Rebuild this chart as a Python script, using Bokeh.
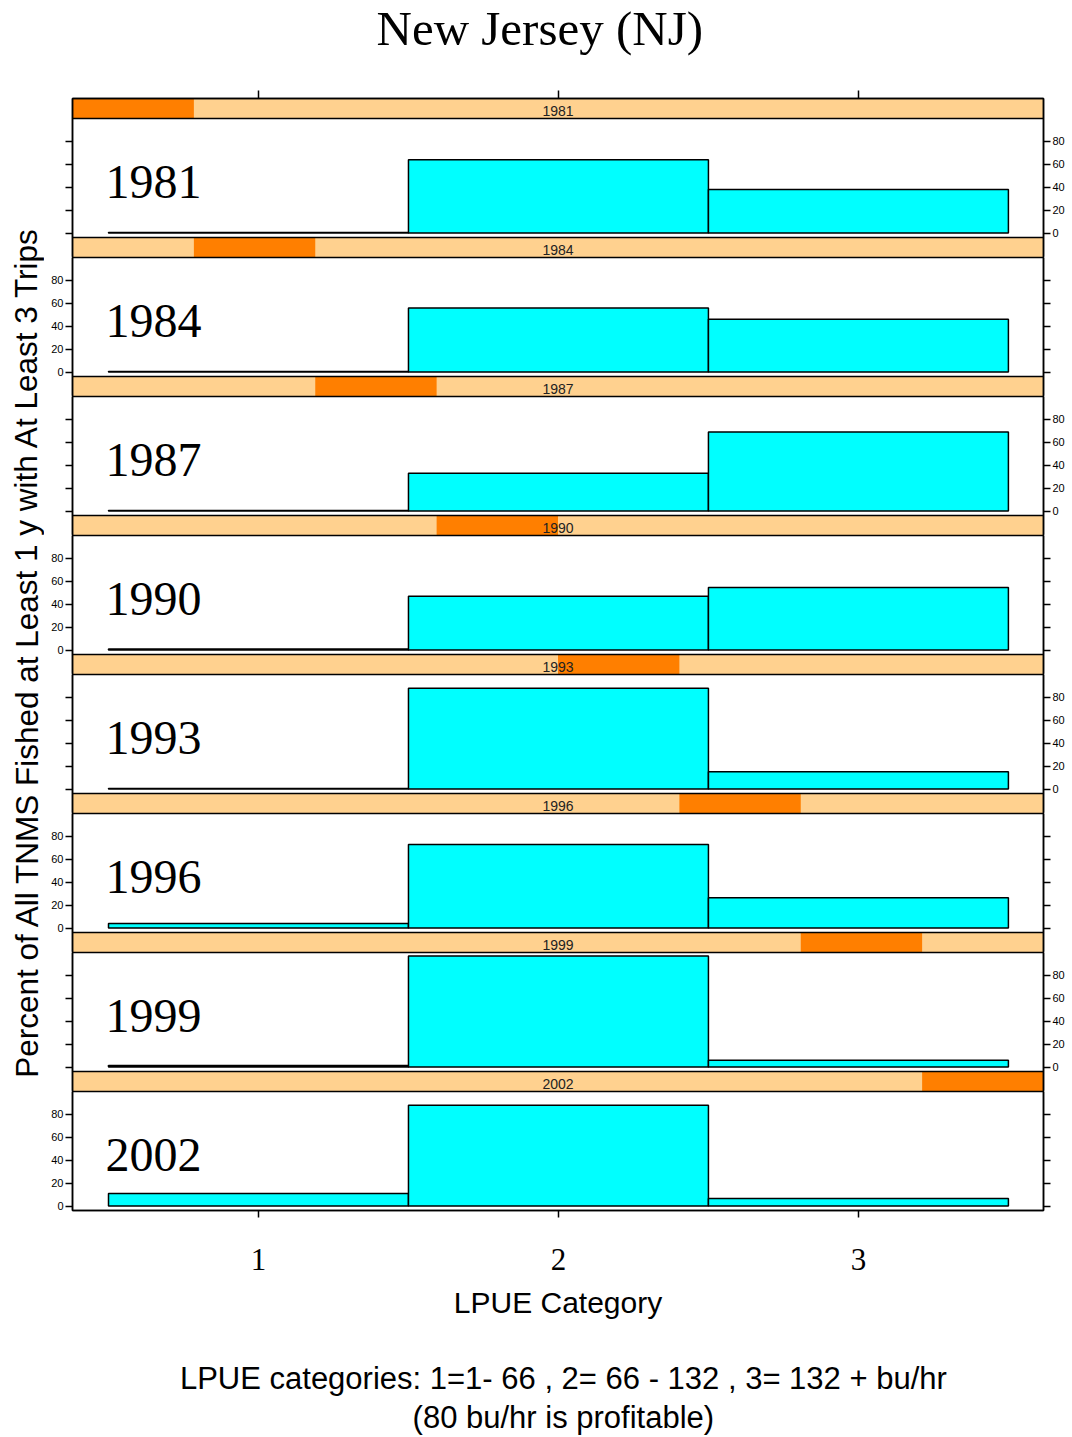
import math
from bokeh.plotting import figure
from bokeh.models import Range1d, LinearAxis, FixedTicker, ColumnDataSource
from bokeh.layouts import column, row
from bokeh.embed import file_html
from bokeh.resources import INLINE
from bokeh.core.properties import value

# ---------------- data ----------------
years = ["1981", "1984", "1987", "1990", "1993", "1996", "1999", "2002"]
categories = [1, 2, 3]
pct_1981 = [0.5, 64.0, 38.0]
pct_1984 = [0.5, 56.0, 46.0]
pct_1987 = [0.5, 33.0, 69.0]
pct_1990 = [1.0, 47.0, 54.5]
pct_1993 = [0.5, 88.0, 15.0]
pct_1996 = [4.0, 73.0, 26.5]
pct_1999 = [1.3, 97.0, 6.0]
pct_2002 = [11.0, 88.0, 6.5]
values = [pct_1981, pct_1984, pct_1987, pct_1990, pct_1993, pct_1996, pct_1999, pct_2002]
y_ticks = [0, 20, 40, 60, 80]
x_ticks = [1, 2, 3]
x_tick_labels = {1: "1", 2: "2", 3: "3"}

title_text = "New Jersey (NJ)"
y_label_text = "Percent of All TNMS Fished at Least 1   y with At Least 3 Trips"
x_label_text = "LPUE Category"
note_line1 = "LPUE categories: 1=1- 66 , 2= 66 - 132 , 3= 132 + bu/hr"
note_line2 = "(80 bu/hr is profitable)"

# ---------------- style ----------------
SERIF = "Liberation Serif"
SANS = "Liberation Sans"
STRIP_BG = "#FFD18F"
STRIP_FG = "#FF7F00"
BAR = "#00FFFF"

FRAME_W = 971
DATA_H = 119
STRIP_H = 20
Y_LO, Y_HI = -3.9, 100.0
UNIT = (Y_HI - Y_LO) / DATA_H  # data units per pixel
X_LO, X_HI = 0.38, 3.617

LABEL_W = 44
LEFT_B = 28
RIGHT_B = 28
HEADER_H = 68
TOP_B = 30
BOTTOM_B = 115
FOOTER_H = 110
n = len(years)
TOTAL_H = HEADER_H + TOP_B + (DATA_H + STRIP_H) * n + BOTTOM_B + FOOTER_H


def y_axis(labeled):
    ax = LinearAxis(ticker=FixedTicker(ticks=y_ticks))
    ax.axis_line_color = "black"
    ax.axis_line_width = 1.5
    ax.major_tick_line_width = 1.5
    ax.major_tick_in = 0
    ax.major_tick_out = 7
    ax.minor_tick_line_color = None
    ax.major_label_standoff = 2
    ax.major_label_text_font = SANS
    ax.major_label_text_font_size = "11px"
    ax.major_label_text_color = "black"
    if not labeled:
        ax.major_label_overrides = {t: "" for t in y_ticks}
    return ax


def draw_strip(p, k, y0):
    """Strip for panel k, occupying pixel rows y0..y0+STRIP_H of the frame."""
    kw = dict(x_range_name="strip", y_range_name="px")
    p.quad(left=[0], right=[n], bottom=[y0], top=[y0 + STRIP_H],
           fill_color=STRIP_BG, line_color=None, **kw)
    p.quad(left=[k], right=[k + 1], bottom=[y0], top=[y0 + STRIP_H],
           fill_color=STRIP_FG, line_color=None, **kw)
    p.quad(left=[0], right=[n], bottom=[y0], top=[y0 + STRIP_H],
           fill_color=None, line_color="black", line_width=1.5, **kw)
    p.text(x=[n / 2], y=[y0 + STRIP_H / 2 - 2], text=[years[k]],
           text_font=value(SANS), text_font_size="14px",
           text_align="center", text_baseline="middle", text_color="#222222", **kw)


panels = []
for i, (yr, vals) in enumerate(zip(years, values)):
    is_top = i == 0
    is_bottom = i == n - 1
    top_strip = STRIP_H if is_top else 0
    bot_strip = 0 if is_bottom else STRIP_H
    frame_h = DATA_H + top_strip + bot_strip
    p = figure(
        frame_width=FRAME_W, frame_height=frame_h,
        x_range=Range1d(X_LO, X_HI),
        y_range=Range1d(Y_LO - bot_strip * UNIT, Y_HI + top_strip * UNIT),
        output_backend="svg", toolbar_location=None,
        x_axis_location=None, y_axis_location=None,
        min_border_left=LEFT_B, min_border_right=RIGHT_B,
        min_border_top=TOP_B if is_top else 0,
        min_border_bottom=BOTTOM_B if is_bottom else 0,
        background_fill_color="white", border_fill_color="white",
        outline_line_color="black", outline_line_width=1.5,
    )
    p.grid.visible = False
    p.extra_x_ranges = {"strip": Range1d(0, n)}
    p.extra_y_ranges = {"px": Range1d(0, frame_h)}

    # bars
    src = ColumnDataSource(dict(
        left=[c - 0.5 for c in categories],
        right=[c + 0.5 for c in categories],
        bottom=[0] * len(categories),
        top=vals,
    ))
    p.quad(left="left", right="right", bottom="bottom", top="top", source=src,
           fill_color=BAR, line_color="black", line_width=1.5)

    # strips: own strip on top for the first panel, next panel's strip below
    if is_top:
        draw_strip(p, i, frame_h - STRIP_H)
    if not is_bottom:
        draw_strip(p, i + 1, 0)

    # big year label
    p.text(x=[0.49], y=[44.5], text=[yr], text_font=value(SERIF),
           text_font_size="48px", text_align="left",
           text_baseline="middle", text_color="black")

    labeled_right = (i % 2 == 0)
    p.add_layout(y_axis(not labeled_right), "left")
    p.add_layout(y_axis(labeled_right), "right")

    if is_top:
        ax = LinearAxis(ticker=FixedTicker(ticks=x_ticks))
        ax.major_label_overrides = {t: "" for t in x_ticks}
        ax.major_tick_in = 0
        ax.major_tick_out = 8
        ax.major_tick_line_width = 1.5
        ax.axis_line_width = 1.5
        ax.minor_tick_line_color = None
        ax.major_label_text_font_size = "8px"
        ax.major_label_standoff = 0
        p.add_layout(ax, "above")
    if is_bottom:
        ax = LinearAxis(ticker=FixedTicker(ticks=x_ticks))
        ax.major_label_overrides = x_tick_labels
        ax.major_tick_in = 0
        ax.major_tick_out = 7
        ax.major_tick_line_width = 1.5
        ax.axis_line_width = 1.5
        ax.minor_tick_line_color = None
        ax.major_label_text_font = SERIF
        ax.major_label_text_font_size = "31px"
        ax.major_label_text_color = "black"
        ax.major_label_standoff = 31
        ax.axis_label = x_label_text
        ax.axis_label_text_font = SANS
        ax.axis_label_text_font_size = "30px"
        ax.axis_label_text_font_style = "normal"
        ax.axis_label_text_color = "black"
        ax.axis_label_standoff = 13
        p.add_layout(ax, "below")
    panels.append(p)


def blank(w, h):
    f = figure(width=w, height=h, x_range=Range1d(0, w), y_range=Range1d(h, 0),
               output_backend="svg", toolbar_location=None,
               x_axis_location=None, y_axis_location=None,
               min_border=0, outline_line_color=None,
               background_fill_color="white", border_fill_color="white")
    f.grid.visible = False
    return f


HEAD_W = 1000
header = blank(HEAD_W, HEADER_H)
header.text(x=[495], y=[28], text=[title_text], text_font=value(SERIF),
            text_font_size="49px", text_align="center", text_baseline="middle",
            text_color="black")

footer = blank(HEAD_W, FOOTER_H)
footer.text(x=[520, 520], y=[53, 92], text=[note_line1, note_line2],
            text_font=value(SANS), text_font_size="31px", text_align="center",
            text_baseline="middle", text_color="black")

ylab = blank(LABEL_W, TOTAL_H)
ylab.text(x=[26], y=[642], text=[y_label_text], angle=[math.pi / 2],
          text_font=value(SANS), text_font_size="31.5px", text_align="center",
          text_baseline="middle", text_color="black")

layout = row(ylab, column(header, *panels, footer))

open("out.html", "w").write(file_html(layout, INLINE))
